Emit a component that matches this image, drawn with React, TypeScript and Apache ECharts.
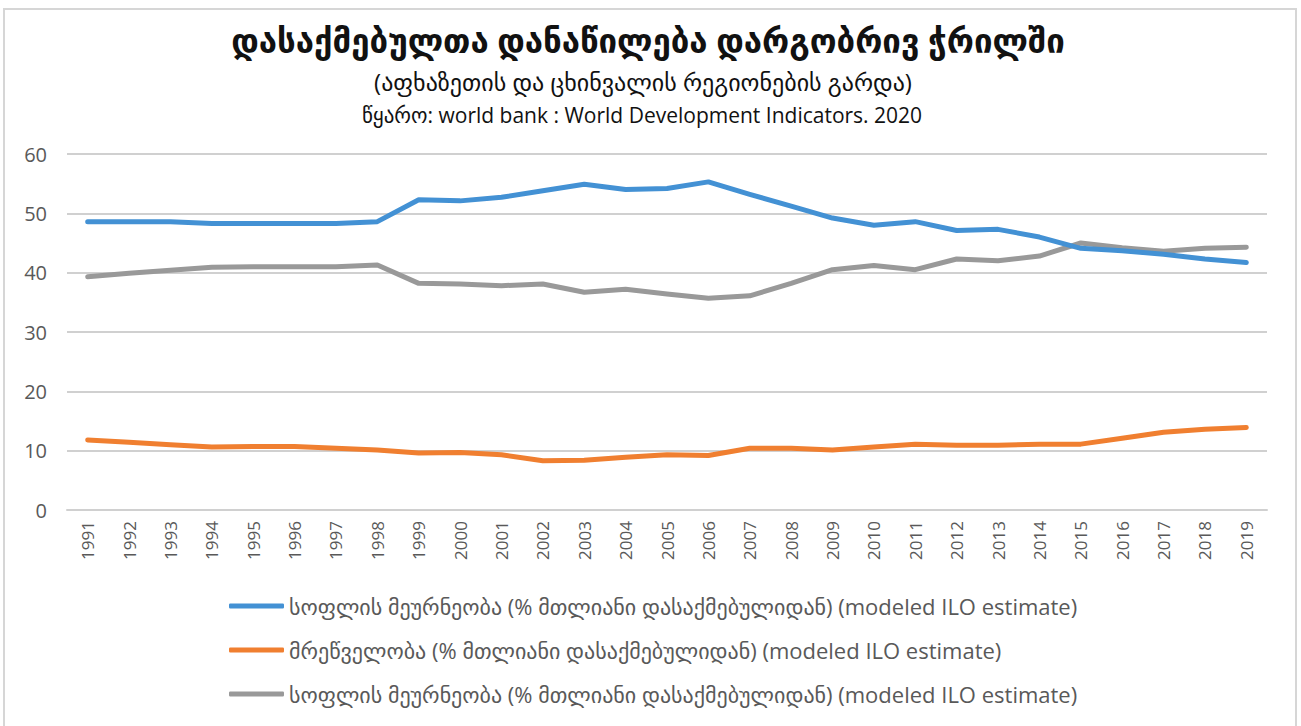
import React, { useEffect, useRef } from "react";
import * as echarts from "echarts";

const years = [
  "1991", "1992", "1993", "1994", "1995", "1996", "1997", "1998", "1999", "2000",
  "2001", "2002", "2003", "2004", "2005", "2006", "2007", "2008", "2009", "2010",
  "2011", "2012", "2013", "2014", "2015", "2016", "2017", "2018", "2019",
];

const agriculture = [
  48.6, 48.6, 48.6, 48.3, 48.3, 48.3, 48.3, 48.6, 52.3, 52.1,
  52.7, 53.8, 54.9, 54.0, 54.2, 55.3, 53.2, 51.2, 49.2, 48.0,
  48.6, 47.1, 47.3, 46.0, 44.1, 43.7, 43.1, 42.3, 41.7,
];

const industry = [
  11.8, 11.4, 11.0, 10.6, 10.7, 10.7, 10.4, 10.1, 9.6, 9.7,
  9.3, 8.3, 8.4, 8.9, 9.3, 9.2, 10.4, 10.4, 10.1, 10.6,
  11.1, 10.9, 10.9, 11.1, 11.1, 12.1, 13.1, 13.6, 13.9,
];

const services = [
  39.3, 39.9, 40.4, 40.9, 41.0, 41.0, 41.0, 41.3, 38.2, 38.1,
  37.8, 38.1, 36.7, 37.2, 36.4, 35.7, 36.1, 38.2, 40.5, 41.2,
  40.5, 42.3, 42.0, 42.8, 45.0, 44.2, 43.6, 44.1, 44.3,
];

const seriesNames = [
  "სოფლის მეურნეობა (% მთლიანი დასაქმებულიდან) (modeled ILO estimate)",
  "მრეწველობა (% მთლიანი დასაქმებულიდან) (modeled ILO estimate)",
  "სოფლის მეურნეობა (% მთლიანი დასაქმებულიდან) (modeled ILO estimate) ",
];

const titleText = "დასაქმებულთა დანაწილება დარგობრივ ჭრილში";
const subtitleText = "(აფხაზეთის და ცხინვალის რეგიონების გარდა)";
const sourceText = "წყარო: world bank : World Development Indicators. 2020";

const colors = ["#4391d4", "#f07f30", "#999999"];
const FONT = "'Open Sans', 'DejaVu Sans', sans-serif";

export default function App() {
  const ref = useRef<HTMLDivElement>(null);

  useEffect(() => {
    document.body.style.margin = "0";
    const chart = echarts.init(ref.current!, undefined, { renderer: "svg" });
    const dataSets = [agriculture, industry, services];
    chart.setOption({
      animation: false,
      backgroundColor: "#ffffff",
      color: colors,
      textStyle: { fontFamily: FONT },
      graphic: [
        {
          type: "rect",
          shape: { x: 4, y: 9, width: 1292, height: 730 },
          style: { fill: "none", stroke: "#d6d6d6", lineWidth: 2 },
          silent: true,
        },
        {
          type: "text",
          x: 648,
          y: 40,
          style: {
            text: titleText,
            fontSize: 33,
            fontWeight: "bold",
            fontFamily: FONT,
            fill: "#111111",
            align: "center",
            verticalAlign: "middle",
          },
        },
        {
          type: "text",
          x: 643,
          y: 81,
          style: {
            text: subtitleText,
            fontSize: 24,
            fontFamily: FONT,
            fill: "#111111",
            align: "center",
            verticalAlign: "middle",
          },
        },
        {
          type: "text",
          x: 642,
          y: 115,
          style: {
            text: sourceText,
            fontSize: 21,
            fontFamily: FONT,
            fill: "#111111",
            align: "center",
            verticalAlign: "middle",
          },
        },
      ],
      grid: { left: 67, right: 34, top: 154, bottom: 216, containLabel: false },
      legend: {
        orient: "vertical",
        left: 224,
        top: 590,
        itemGap: 22,
        itemWidth: 55,
        itemHeight: 5,
        icon: "roundRect",
        textStyle: { fontSize: 22, color: "#595959", fontFamily: FONT },
        data: seriesNames,
      },
      xAxis: {
        type: "category",
        data: years,
        boundaryGap: true,
        axisLine: { show: true, lineStyle: { color: "#d0d0d0", width: 2 } },
        axisTick: { show: false },
        axisLabel: {
          rotate: 90,
          fontSize: 17,
          color: "#595959",
          margin: 11,
          fontFamily: FONT,
        },
      },
      yAxis: {
        type: "value",
        min: 0,
        max: 60,
        interval: 10,
        axisLine: { show: false },
        axisTick: { show: false },
        axisLabel: { fontSize: 20, color: "#595959", margin: 20, fontFamily: FONT },
        splitLine: { lineStyle: { color: "#d0d0d0", width: 2 } },
      },
      series: dataSets.map((d, i) => ({
        name: seriesNames[i],
        type: "line",
        data: d,
        symbol: "none",
        lineStyle: { width: 5, color: colors[i], cap: "round", join: "round" },
        itemStyle: { color: colors[i] },
        z: i === 0 ? 3 : 2,
      })),
    });
    return () => chart.dispose();
  }, []);

  return <div ref={ref} style={{ width: 1301, height: 726 }} />;
}
